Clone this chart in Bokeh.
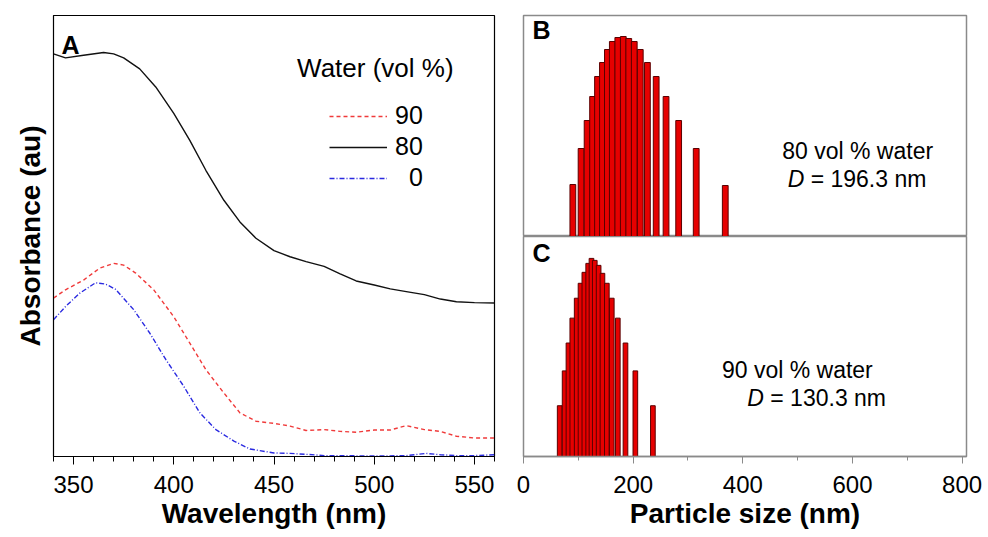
from bokeh.plotting import figure
from bokeh.layouts import row, column
from bokeh.models import (Range1d, SingleIntervalTicker, FixedTicker, Legend, LegendItem, Label)
from bokeh.embed import file_html
from bokeh.resources import INLINE
from bokeh.core.properties import value

# ---------------- data ----------------
wl_80 = [340, 346, 355, 365, 370, 375, 383, 391, 400, 408, 416, 425, 433, 441, 450, 458,
         466, 475, 483, 491, 500, 508, 516, 525, 533, 541, 550, 560]
abs_80 = [0.913, 0.904, 0.910, 0.916, 0.913, 0.904, 0.879, 0.838, 0.778, 0.717, 0.649, 0.581,
          0.532, 0.495, 0.467, 0.453, 0.442, 0.431, 0.414, 0.398, 0.389, 0.380, 0.374, 0.367,
          0.357, 0.351, 0.349, 0.348]

wl_90 = [340, 346, 355, 363, 370, 375, 381, 390, 400, 408, 416, 425, 433, 441, 450, 458,
         466, 475, 483, 491, 500, 508, 516, 525, 533, 541, 550, 560]
abs_90 = [0.359, 0.378, 0.400, 0.427, 0.438, 0.434, 0.416, 0.378, 0.317, 0.257, 0.197, 0.144,
          0.099, 0.080, 0.075, 0.069, 0.059, 0.061, 0.057, 0.055, 0.060, 0.060, 0.070, 0.061,
          0.057, 0.046, 0.042, 0.042]

wl_0 = [340, 346, 353, 361, 366, 371, 380, 388, 396, 405, 413, 421, 430, 438, 450, 458,
        466, 475, 483, 500, 516, 526, 533, 541, 550, 560]
abs_0 = [0.310, 0.340, 0.370, 0.394, 0.391, 0.379, 0.333, 0.280, 0.220, 0.159, 0.099, 0.061,
         0.035, 0.017, 0.008, 0.007, 0.005, 0.002, 0.002, 0.001, 0.002, 0.007, 0.004, 0.002,
         0.002, 0.004]

legend_title = "Water (vol %)"
legend_labels = ["90", "80", "\u20070"]

size_80 = [90, 105, 116, 126, 135, 144, 153, 162, 172, 182, 192, 202, 213, 226, 242, 260,
           283, 315, 368]
count_80 = [5.2, 8.8, 11.6, 14.0, 16.0, 17.4, 18.7, 19.5, 19.9, 20.0, 19.8, 19.5, 18.7, 17.4,
            16.0, 14.0, 11.6, 8.8, 5.1]

size_90 = [66, 75, 82, 89, 97, 104, 111, 118, 124, 130, 137, 144, 152, 161, 172, 186, 204, 236]
count_90 = [5.1, 8.6, 11.4, 13.9, 15.9, 17.4, 18.5, 19.4, 19.9, 19.7, 19.2, 18.4, 17.4, 15.9,
            13.9, 11.4, 8.6, 5.1]

FONT = "Liberation Sans"

# ---------------- panel A ----------------
pA = figure(width=508, height=536, output_backend="svg", toolbar_location=None,
            x_range=Range1d(340, 560), y_range=Range1d(0, 1),
            min_border_left=53, min_border_right=14, min_border_top=15, min_border_bottom=80)
pA.frame_width = 441
pA.frame_height = 441
pA.grid.visible = False
pA.outline_line_color = "black"
pA.outline_line_width = 1.2

r90 = pA.line(wl_90, abs_90, line_color="#f03a3a", line_width=1.4, line_dash="4 3")
r80 = pA.line(wl_80, abs_80, line_color="#111111", line_width=1.4)
r0 = pA.line(wl_0, abs_0, line_color="#2a2ae0", line_width=1.4, line_dash="5 2 1 2")

xa = pA.xaxis[0]
xa.ticker = SingleIntervalTicker(interval=50, num_minor_ticks=5)
xa.major_tick_out = 8
xa.major_tick_in = 0
xa.minor_tick_out = 5
xa.minor_tick_in = 0
xa.major_tick_line_color = "black"
xa.minor_tick_line_color = "black"
xa.axis_line_color = "black"
xa.major_label_text_font = FONT
xa.major_label_text_font_size = "24px"
xa.major_label_text_color = "black"
xa.major_label_standoff = 11
xa.axis_label = "Wavelength (nm)"
xa.axis_label_text_font = FONT
xa.axis_label_text_font_size = "28px"
xa.axis_label_text_font_style = "bold"
xa.axis_label_text_color = "black"
xa.axis_label_standoff = 2

ya = pA.yaxis[0]
ya.ticker = FixedTicker(ticks=[])
ya.major_tick_out = 0
ya.minor_tick_out = 0
ya.major_label_standoff = 0
ya.axis_line_color = "black"
ya.axis_label = "Absorbance (au)"
ya.axis_label_text_font = FONT
ya.axis_label_text_font_size = "28px"
ya.axis_label_text_font_style = "bold"
ya.axis_label_text_color = "black"
ya.axis_label_standoff = 8

leg = Legend(items=[LegendItem(label=legend_labels[0], renderers=[r90]),
                    LegendItem(label=legend_labels[1], renderers=[r80]),
                    LegendItem(label=legend_labels[2], renderers=[r0])],
             location=(276, 264), padding=0, margin=0, spacing=2,
             glyph_width=58, glyph_height=20, label_height=20, label_standoff=8,
             label_text_font=FONT, label_text_font_size="25px", label_text_color="black",
             border_line_color=None, background_fill_alpha=0)
pA.add_layout(leg)

pA.add_layout(Label(x=461.5, y=0.88, text=legend_title, text_font=FONT,
                    text_font_size="26px", text_baseline="middle", text_color="black"))
pA.add_layout(Label(x=344, y=0.932, text="A", text_font=FONT, text_font_size="25px",
                    text_font_style="bold", text_baseline="alphabetic", text_color="black"))

# ---------------- panels B and C ----------------
GRAY = "#8a8a8a"
BAR_FILL = "#e60000"
BAR_LINE = "#5a0000"


def size_panel(height, top, bottom, fh, show_x):
    p = figure(width=478, height=height, output_backend="svg", toolbar_location=None,
               x_range=Range1d(0, 808), y_range=Range1d(0, 22.1),
               min_border_left=15, min_border_right=20, min_border_top=top,
               min_border_bottom=bottom)
    p.frame_width = 443
    p.frame_height = fh
    p.grid.visible = False
    p.outline_line_color = GRAY
    p.outline_line_width = 1.5
    p.yaxis.visible = False
    if show_x:
        ax = p.xaxis[0]
        ax.ticker = SingleIntervalTicker(interval=200, num_minor_ticks=2)
        ax.major_tick_out = 7
        ax.major_tick_in = 0
        ax.minor_tick_out = 4
        ax.minor_tick_in = 0
        ax.major_tick_line_color = GRAY
        ax.minor_tick_line_color = GRAY
        ax.axis_line_color = GRAY
        ax.axis_line_width = 1.5
        ax.major_label_text_font = FONT
        ax.major_label_text_font_size = "24px"
        ax.major_label_text_color = "black"
        ax.major_label_standoff = 12
        ax.axis_label = "Particle size (nm)"
        ax.axis_label_text_font = FONT
        ax.axis_label_text_font_size = "28px"
        ax.axis_label_text_font_style = "bold"
        ax.axis_label_text_color = "black"
        ax.axis_label_standoff = 2
    else:
        p.xaxis.visible = False
    return p


pB = size_panel(236, 15, 0, 221, False)
pB.vbar(x=size_80, top=count_80, width=10.5, bottom=0, fill_color=BAR_FILL,
        line_color=BAR_LINE, line_width=1)
pB.add_layout(Label(x=16.4, y=19.3, text="B", text_font=FONT, text_font_size="25px",
                    text_font_style="bold", text_color="black"))
pB.text(x=[609.5], y=[8.6], text=["80 vol % water"], text_font=value(FONT),
        text_font_size="23px", text_align="center", text_baseline="middle", text_color="black")
pB.text(x=[481.8], y=[5.8], text=["D"], text_font=value(FONT), text_font_style="italic",
        text_font_size="23px", text_align="left", text_baseline="middle", text_color="black")
pB.text(x=[481.8], y=[5.8], text=["= 196.3 nm"], text_font=value(FONT), x_offset=23,
        text_font_size="23px", text_align="left", text_baseline="middle", text_color="black")

pC = size_panel(300, 0, 80, 220, True)
pC.vbar(x=size_90, top=count_90, width=8.5, bottom=0, fill_color=BAR_FILL,
        line_color=BAR_LINE, line_width=1)
pC.add_layout(Label(x=16.4, y=19.0, text="C", text_font=FONT, text_font_size="25px",
                    text_font_style="bold", text_color="black"))
pC.text(x=[499.5], y=[8.64], text=["90 vol % water"], text_font=value(FONT),
        text_font_size="23px", text_align="center", text_baseline="middle", text_color="black")
pC.text(x=[408.2], y=[5.83], text=["D"], text_font=value(FONT), text_font_style="italic",
        text_font_size="23px", text_align="left", text_baseline="middle", text_color="black")
pC.text(x=[408.2], y=[5.83], text=["= 130.3 nm"], text_font=value(FONT), x_offset=23,
        text_font_size="23px", text_align="left", text_baseline="middle", text_color="black")

layout = row(pA, column(pB, pC, spacing=0), spacing=0)

open("out.html", "w").write(file_html(layout, INLINE))
